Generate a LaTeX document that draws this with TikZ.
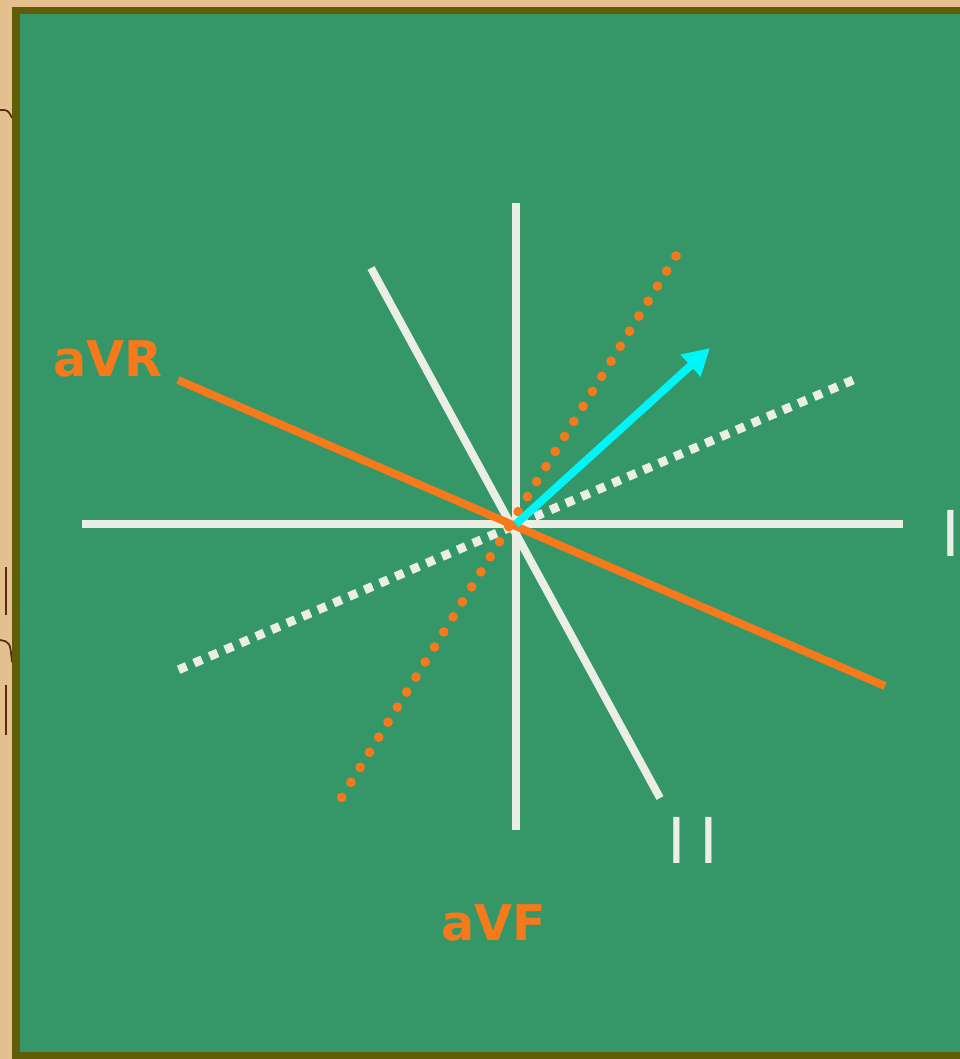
\documentclass[tikz,border=0pt]{standalone}
\usepackage{fontspec}
\setmainfont{DejaVu Sans}
\usetikzlibrary{arrows.meta}
\usepackage{xcolor}
\definecolor{board}{RGB}{53,151,103}
\definecolor{frame}{RGB}{96,92,8}
\definecolor{paper}{RGB}{228,192,142}
\definecolor{trace}{RGB}{92,40,20}
\definecolor{leadorange}{RGB}{246,122,28}
\definecolor{leadwhite}{RGB}{234,238,228}
\definecolor{axiscyan}{RGB}{0,246,246}

\begin{document}
\begin{tikzpicture}[x=0.02cm,y=-0.02cm,
  leadline/.style={leadwhite,line width=4.5pt},
  augline/.style={leadorange,line width=4.5pt},
  whitedots/.style={leadwhite,line width=5pt,dash pattern=on 5pt off 4.6pt},
  orangedots/.style={leadorange,line width=5.5pt,line cap=round,dash pattern=on 0pt off 10.06pt},
  leadname/.style={leadwhite,inner sep=0pt,font=\fontsize{36}{36}\selectfont},
  augname/.style={leadorange,inner sep=0pt,font=\fontsize{28}{28}\selectfont\bfseries}]
\useasboundingbox (0,0) rectangle (960,1059);
\fill[paper] (0,0) rectangle (960,1059);
\draw[trace,line width=1.2pt] (6,567) -- (6,615) (6,685) -- (6,735);
\draw[trace,line width=1pt] (0,640) .. controls (10,642) .. (12,662);
\draw[trace,line width=1pt] (0,110) .. controls (8,110) .. (12,118);
\fill[frame] (12,7) rectangle (960,1059);
\fill[board] (20,14) rectangle (960,1052);

\coordinate (O) at (516,524);
\coordinate (Iw) at (82,524);
\coordinate (Ie) at (903,524);
\coordinate (Fn) at (516,203);
\coordinate (Fs) at (516,830);
\coordinate (IIn) at (371,268);
\coordinate (IIs) at (660,798);
\coordinate (Rn) at (178,380);
\coordinate (Rs) at (885,686);
\coordinate (Ln) at (676,256);
\coordinate (Ls) at (340,800);
\coordinate (IIIn) at (853,380);
\coordinate (IIIs) at (178,670);
\coordinate (tip) at (710,348);

\foreach \a/\b in {Iw/Ie, Fn/Fs, IIn/IIs}{
  \draw[leadline] (\a) -- (\b);
}
\draw[whitedots] (IIIn) -- (IIIs);
\draw[orangedots] (Ln) -- (Ls);
\draw[augline] (Rn) -- (Rs);
\draw[axiscyan,line width=4.5pt,-{Triangle[length=15pt,width=16pt]}] (O) -- (tip);

\node[leadname] (labI) at (951,533) {I};
\node[leadname] (labII) at (693,840) {I\hspace{7.4pt}I};
\node[augname] (labR) at (108,359) {aVR};
\node[augname] (labF) at (494,923) {aVF};
\end{tikzpicture}
\end{document}
